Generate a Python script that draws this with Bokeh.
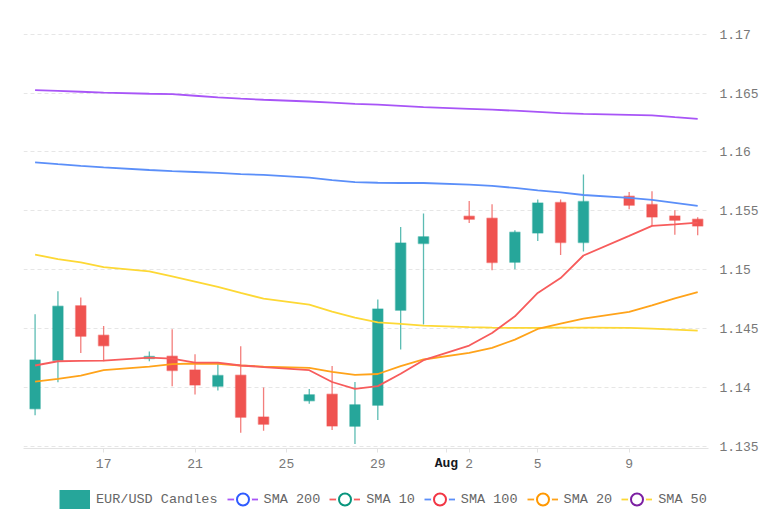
import numpy as np
import pandas as pd
from bokeh.plotting import figure
from bokeh.layouts import column
from bokeh.models import (ColumnDataSource, Range1d, FixedTicker, Legend,
                          LegendItem, DatetimeAxis)
from bokeh.embed import file_html
from bokeh.resources import INLINE

# ---------------- data ----------------
dates = ["2025-07-14", "2025-07-15", "2025-07-16", "2025-07-17", "2025-07-19",
         "2025-07-20", "2025-07-21", "2025-07-22", "2025-07-23", "2025-07-24",
         "2025-07-26", "2025-07-27", "2025-07-28", "2025-07-29", "2025-07-30",
         "2025-07-31", "2025-08-02", "2025-08-03", "2025-08-04", "2025-08-05",
         "2025-08-06", "2025-08-07", "2025-08-09", "2025-08-10", "2025-08-11",
         "2025-08-12"]
opens = [1.13822, 1.14232, 1.14695, 1.14446, 1.14249, 1.14268, 1.14150, 1.14014,
         1.14107, 1.13752, 1.13890, 1.13946, 1.13673, 1.13851, 1.14658, 1.15224,
         1.15455, 1.15438, 1.15065, 1.15313, 1.15571, 1.15232, 1.15625, 1.15554,
         1.15458, 1.15430]
highs = [1.14624, 1.14819, 1.14766, 1.14523, 1.14308, 1.14497, 1.14285, 1.14212,
         1.14353, 1.14003, 1.13989, 1.14184, 1.14048, 1.14749, 1.15364, 1.15478,
         1.15585, 1.15557, 1.15336, 1.15597, 1.15597, 1.15808, 1.15661, 1.15667,
         1.15506, 1.15447]
lows = [1.13766, 1.14046, 1.14296, 1.14226, 1.14226, 1.14014, 1.13944, 1.13978,
        1.13619, 1.13635, 1.13864, 1.13641, 1.13523, 1.13726, 1.14325, 1.14537,
        1.15398, 1.14997, 1.15006, 1.15246, 1.15127, 1.15156, 1.15514, 1.15370,
        1.15297, 1.15294]
closes = [1.14235, 1.14692, 1.14438, 1.14356, 1.14266, 1.14147, 1.14023, 1.14105,
          1.13749, 1.13690, 1.13940, 1.13675, 1.13856, 1.14669, 1.15229, 1.15280,
          1.15430, 1.15063, 1.15319, 1.15568, 1.15232, 1.15580, 1.15548, 1.15449,
          1.15421, 1.15373]
sma10 = [1.14189, 1.14225, 1.14229, 1.14231, 1.14256, 1.14248, 1.14214, 1.14214,
         1.14189, 1.14176, 1.14149, 1.14049, 1.13990, 1.14014, 1.14119, 1.14234,
         1.14358, 1.14465, 1.14606, 1.14804, 1.14931, 1.15122, 1.15289, 1.15373,
         1.15386, 1.15401]
sma20 = [1.14053, 1.14076, 1.14104, 1.14149, 1.14180, 1.14200, 1.14206, 1.14203,
         1.14189, 1.14180, 1.14169, 1.14135, 1.14110, 1.14117, 1.14183, 1.14240,
         1.14296, 1.14338, 1.14409, 1.14499, 1.14544, 1.14586, 1.14643, 1.14699,
         1.14758, 1.14812]
sma50 = [1.15130, 1.15091, 1.15063, 1.15024, 1.14987, 1.14944, 1.14900, 1.14855,
         1.14804, 1.14756, 1.14705, 1.14646, 1.14595, 1.14555, 1.14542, 1.14527,
         1.14514, 1.14510, 1.14508, 1.14508, 1.14510, 1.14510, 1.14508, 1.14502,
         1.14493, 1.14485]
sma100 = [1.15912, 1.15897, 1.15883, 1.15870, 1.15847, 1.15838, 1.15830, 1.15822,
          1.15813, 1.15805, 1.15783, 1.15762, 1.15745, 1.15739, 1.15737, 1.15737,
          1.15723, 1.15712, 1.15695, 1.15675, 1.15657, 1.15635, 1.15610, 1.15593,
          1.15568, 1.15542]
sma200 = [1.16524, 1.16518, 1.16511, 1.16504, 1.16494, 1.16490, 1.16477, 1.16464,
          1.16452, 1.16443, 1.16428, 1.16418, 1.16408, 1.16401, 1.16391, 1.16380,
          1.16366, 1.16359, 1.16350, 1.16340, 1.16329, 1.16323, 1.16315, 1.16310,
          1.16295, 1.16281]

x_tick_dates = ["2025-07-17", "2025-07-21", "2025-07-25", "2025-07-29",
                "2025-08-01", "2025-08-02", "2025-08-05", "2025-08-09"]
x_tick_labels = ["17", "21", "25", "29", "Aug", "2", "5", "9"]
y_ticks = [1.135, 1.14, 1.145, 1.15, 1.155, 1.16, 1.165, 1.17]
y_tick_labels = ["1.135", "1.14", "1.145", "1.15", "1.155", "1.16", "1.165", "1.17"]

series_names = ["SMA 200", "SMA 10", "SMA 100", "SMA 20", "SMA 50"]

# ---------------- styles ----------------
UP = "#26a69a"
DOWN = "#ef5350"
LINE_COLORS = {"SMA 200": "#a855f7", "SMA 100": "#5b8ff9", "SMA 50": "#fdd835",
               "SMA 20": "#ffa31a", "SMA 10": "#f75c5c"}
RING_COLORS = {"SMA 200": "#2f5bff", "SMA 10": "#08957d", "SMA 100": "#f23645",
               "SMA 20": "#ff9800", "SMA 50": "#7b1fa2"}
FONT = "Liberation Mono"
GRAY = "#787878"
DAY = 86400000.0

# ---------------- main chart ----------------
x = pd.to_datetime(dates)
o = np.array(opens); c = np.array(closes)
src = ColumnDataSource(dict(
    x=x, top=np.maximum(o, c), bottom=np.minimum(o, c),
    high=highs, low=lows,
    color=[UP if cc >= oo else DOWN for oo, cc in zip(opens, closes)],
    sma10=sma10, sma20=sma20, sma50=sma50, sma100=sma100, sma200=sma200))

x_ms = x.astype("int64") // 10**6
x_start = float(x_ms[0]) - 0.507 * DAY
x_end = float(x_ms[-1]) + 0.473 * DAY

p = figure(width=770, height=478, x_axis_type="datetime", y_axis_location="right",
           x_range=Range1d(x_start, x_end), y_range=Range1d(1.13485, 1.1720),
           output_backend="svg", toolbar_location=None,
           min_border_left=23, min_border_right=62, min_border_top=10,
           min_border_bottom=30,
           background_fill_color="white", border_fill_color="white")
p.outline_line_color = None
p.xgrid.grid_line_color = None
p.ygrid.grid_line_color = "#e6e6e6"
p.ygrid.grid_line_dash = "4 3"
p.ygrid.grid_line_width = 1

tick_ms = [int(v) for v in (pd.to_datetime(x_tick_dates).astype("int64") // 10**6)]
xa = p.xaxis[0]
xa.ticker = FixedTicker(ticks=tick_ms)
xa.major_label_overrides = {t: ("" if lab == "Aug" else lab)
                            for t, lab in zip(tick_ms, x_tick_labels)}
xa.axis_line_color = "#e3e3e3"
xa.major_tick_line_color = "#e3e3e3"
xa.major_tick_out = 4
xa.major_tick_in = 0
xa.minor_tick_line_color = None
xa.major_label_text_font = FONT
xa.major_label_text_font_size = "13px"
xa.major_label_text_color = GRAY
xa.major_label_standoff = 6

# month label axis, drawn on the same line as the day labels
aug_ticks = [t for t, lab in zip(tick_ms, x_tick_labels) if lab == "Aug"]
month_axis = DatetimeAxis(ticker=FixedTicker(ticks=aug_ticks),
                          major_label_overrides={t: "Aug" for t in aug_ticks},
                          axis_line_color=None, major_tick_line_color=None,
                          minor_tick_line_color=None, major_tick_out=0,
                          major_tick_in=0, major_label_standoff=-15,
                          major_label_text_font=FONT,
                          major_label_text_font_size="13px",
                          major_label_text_font_style="bold",
                          major_label_text_color="#131722")
p.add_layout(month_axis, "below")

p.yaxis.ticker = FixedTicker(ticks=y_ticks)
p.yaxis.major_label_overrides = {t: lab for t, lab in zip(y_ticks, y_tick_labels)}
p.yaxis.axis_line_color = None
p.yaxis.major_tick_line_color = None
p.yaxis.minor_tick_line_color = None
p.yaxis.major_tick_out = 0
p.yaxis.major_tick_in = 0
p.yaxis.major_label_text_font = FONT
p.yaxis.major_label_text_font_size = "13px"
p.yaxis.major_label_text_color = GRAY
p.yaxis.major_label_standoff = 11

# candles
p.segment(x0="x", y0="low", x1="x", y1="high", source=src,
          line_color="color", line_width=1.3, line_alpha=0.75)
p.vbar(x="x", width=0.45 * DAY, top="top", bottom="bottom", source=src,
       fill_color="color", line_color="color", line_alpha=0.45, line_width=1.5)

# SMA lines
col_of = {"SMA 200": "sma200", "SMA 100": "sma100", "SMA 50": "sma50",
          "SMA 20": "sma20", "SMA 10": "sma10"}
for name in ["SMA 200", "SMA 100", "SMA 50", "SMA 20", "SMA 10"]:
    p.line("x", col_of[name], source=src, line_color=LINE_COLORS[name],
           line_width=1.8)

# ---------------- legend strip ----------------
lg = figure(width=770, height=34, x_range=Range1d(0, 1), y_range=Range1d(0, 1),
            x_axis_type=None, y_axis_type=None, output_backend="svg",
            toolbar_location=None, min_border=0, outline_line_color=None,
            background_fill_color="white", border_fill_color="white")
lg.xgrid.visible = False
lg.ygrid.visible = False
nan_src = ColumnDataSource(dict(x=[np.nan], y=[np.nan]))
candle_icon = lg.line("x", "y", source=nan_src, line_color=UP, line_width=19,
                      line_cap="butt")
items = [LegendItem(label="EUR/USD Candles", renderers=[candle_icon])]
for name in series_names:
    seg = lg.line("x", "y", source=nan_src, line_color=LINE_COLORS[name],
                  line_width=1.8)
    dot = lg.scatter("x", "y", source=nan_src, marker="circle", size=8,
                     fill_color="white", line_color="white", line_width=1)
    ring = lg.annulus("x", "y", inner_radius=0.1, outer_radius=0.2,
                      source=nan_src, fill_color=RING_COLORS[name],
                      line_color="white", line_width=2)
    items.append(LegendItem(label=name, renderers=[seg, dot, ring]))

legend = Legend(items=items, orientation="horizontal", location=(36, 3),
                glyph_width=31, glyph_height=20, label_standoff=6, spacing=9,
                padding=0, margin=0, border_line_color=None,
                background_fill_alpha=0, label_text_font=FONT,
                label_text_font_size="13.5px", label_text_color="#666666")
lg.add_layout(legend, "center")

layout = column(p, lg, spacing=0)
open("out.html", "w").write(file_html(layout, INLINE))
